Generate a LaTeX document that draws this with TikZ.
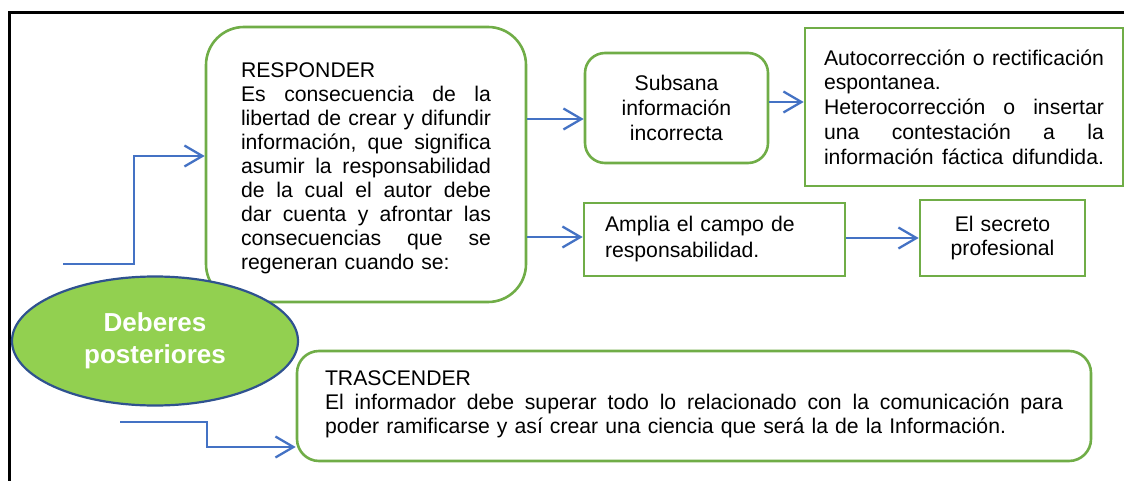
\documentclass[tikz,border=0pt]{standalone}
\usepackage{fontspec}
\setmainfont{Liberation Sans}
\usetikzlibrary{arrows.meta,shapes.geometric}
\definecolor{gborder}{HTML}{70AD47}
\definecolor{efill}{HTML}{92D050}
\definecolor{eborder}{HTML}{2F528F}
\definecolor{ablue}{HTML}{4472C4}
\newcommand\jl[1]{\makebox[\linewidth][s]{#1}}
\begin{document}
\begin{tikzpicture}[x=1pt,y=-1pt,
  gbox/.style={draw=gborder, line width=2.6pt, fill=white, inner sep=0pt,
    font=\fontsize{21.2}{24}\selectfont},
  arr/.style={draw=ablue, line width=2.3pt, -{Straight Barb[length=18pt,width=21pt]}},
  frame/.style={draw=black, line width=3pt}
  ]
\useasboundingbox (0,0) rectangle (1127,481);
\coordinate (f1) at (8,13);
\coordinate (f2) at (1124,13);
\coordinate (f3) at (9,481);
\draw[frame] (f2) -- (f1 -| f3) -- (f3);

\node[gbox, rounded corners=38pt, minimum width=320pt, minimum height=275pt, text width=250pt] (resp) at (366,164.5)
 {\rule{0pt}{23pt}RESPONDER\\
  \jl{Es \hfill consecuencia \hfill de \hfill la}\\
  \jl{libertad \hfill de \hfill crear \hfill y \hfill difundir}\\
  \jl{información, \hfill que \hfill significa}\\
  \jl{asumir \hfill la \hfill responsabilidad}\\
  \jl{de \hfill la \hfill cual \hfill el \hfill autor \hfill debe}\\
  \jl{dar \hfill cuenta \hfill y \hfill afrontar \hfill las}\\
  \jl{consecuencias \hfill que \hfill se}\\
  regeneran cuando se:};

\node[gbox, rounded corners=20pt, minimum width=183pt, minimum height=110pt, text width=170pt, align=center,
  font=\fontsize{21.2}{25}\selectfont] (sub) at (676.5,108)
 {Subsana\\información\\incorrecta};

\node[gbox, minimum width=318pt, minimum height=158pt, text width=280pt,
  font=\fontsize{21.2}{24.7}\selectfont] (auto) at (964,107)
 {\jl{Autocorrección \hfill o \hfill rectificación}\\
  espontanea.\\
  \jl{Heterocorrección \hfill o \hfill insertar}\\
  \jl{una \hfill contestación \hfill a \hfill la}\\
  \jl{información \hfill fáctica \hfill difundida.}};

\node[gbox, minimum width=261pt, minimum height=73pt, text width=219pt, align=left,
  font=\fontsize{21.2}{26}\selectfont] (ampl) at (714.5,239.5)
 {Amplia el campo de\\responsabilidad.};

\node[gbox, minimum width=165pt, minimum height=76pt, text width=150pt, align=center] (secr) at (1002.5,238)
 {El secreto\\profesional};

\node[gbox, rounded corners=22pt, minimum width=794pt, minimum height=110pt, text width=738pt] (tras) at (694,406)
 {TRASCENDER\\
  \jl{El \hfill informador \hfill debe \hfill superar \hfill todo \hfill lo \hfill relacionado \hfill con \hfill la \hfill comunicación \hfill para}\\
  poder ramificarse y así crear una ciencia que será la de la Información.\rule[-8pt]{0pt}{0pt}};

\coordinate (s1) at (63,264);
\coordinate (s2) at (120,422);
\draw[arr] (s1) -- ++(71,0) |- ([yshift=8.5pt]resp.west);
\draw[arr] (s2) -- ++(87,0) |- ([yshift=-41pt]tras.west);
\draw[arr] ([yshift=45.5pt]resp.east) -- ([yshift=-11pt]sub.west);
\draw[arr] ([yshift=-72.5pt]resp.east) -- ([yshift=2.5pt]ampl.west);
\draw[arr] ([yshift=6pt]sub.east) -- ([yshift=5pt]auto.west);
\draw[arr] ([yshift=1.5pt]ampl.east) -- (secr.west);

\node[ellipse, draw=eborder, fill=efill, line width=2.2pt, minimum width=286pt, minimum height=129pt,
  inner sep=0pt, text=white, align=center, font=\bfseries\fontsize{26}{32}\selectfont] (deb) at (155,341)
 {Deberes\\posteriores};
\end{tikzpicture}
\end{document}
